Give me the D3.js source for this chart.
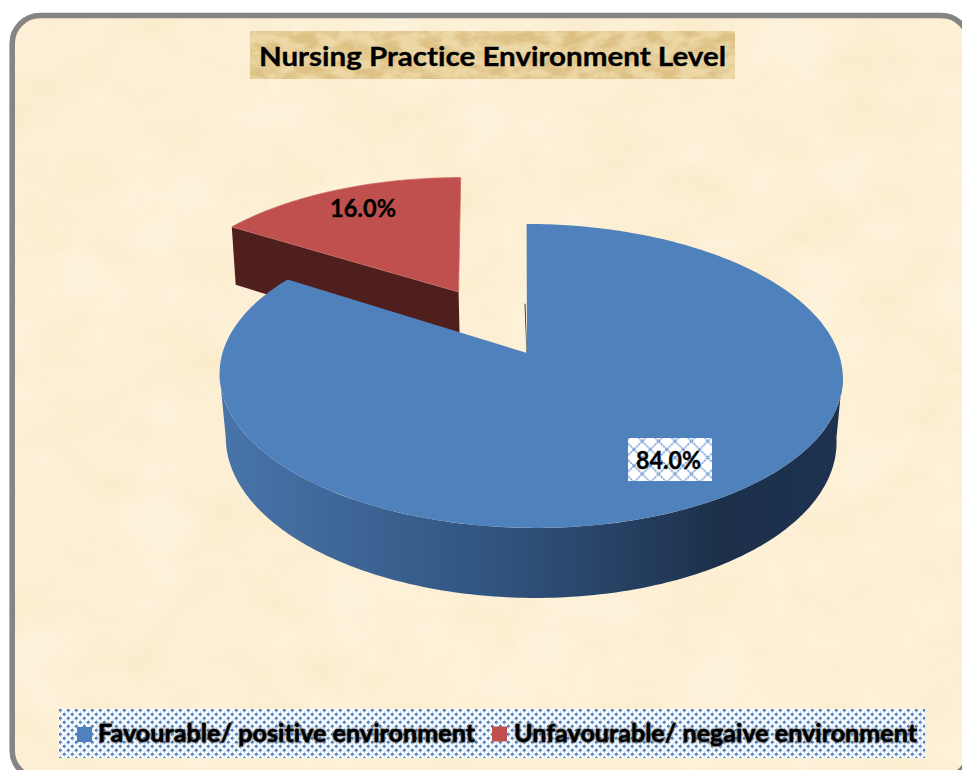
<!DOCTYPE html>
<html><head><meta charset="utf-8">
<script src="https://cdn.jsdelivr.net/npm/d3@7/dist/d3.min.js"></script>
<style>html,body{margin:0;padding:0;background:#fff;overflow:hidden}svg{display:block}text{font-family:Lato,"Open Sans",sans-serif;font-weight:700;fill:#000;stroke:#000;stroke-width:.35px;font-variant-ligatures:none}</style>
</head><body><div id="c"></div>
<script>
const titleText = "Nursing Practice Environment Level";
const categories = ["Favourable/ positive environment", "Unfavourable/ negaive environment"];
const values = [84.0, 16.0];
const valueLabels = ["84.0%", "16.0%"];
const colors = ["#4f81bd", "#c0504d"];
const cutColors = ["#1f3550", "#4f1f1d"];
const explode = [0, 0.5];

const W = 962, H = 770;
const svg = d3.select("#c").append("svg").attr("width", W).attr("height", H);
const defs = svg.append("defs");

function noiseFilter(id, freq, seed, rgb, gain, bias) {
  const f = defs.append("filter").attr("id", id).attr("x", 0).attr("y", 0).attr("width", 1).attr("height", 1)
    .attr("color-interpolation-filters", "sRGB");
  f.append("feTurbulence").attr("type", "fractalNoise").attr("baseFrequency", freq).attr("numOctaves", 4).attr("seed", seed);
  f.append("feColorMatrix").attr("values", `0 0 0 0 ${rgb[0]}  0 0 0 0 ${rgb[1]}  0 0 0 0 ${rgb[2]}  ${gain} 0 0 0 ${bias}`);
}
noiseFilter("parchDark", "0.012 0.02", 7, [0.97, 0.88, 0.70], 3.2, -1.35);
noiseFilter("parchLight", "0.016 0.012", 21, [1, 0.97, 0.90], 3.2, -1.35);
noiseFilter("tan", "0.05 0.09", 3, [0.78, 0.62, 0.33], 3.0, -1.1);

// lattice patterns
const pBig = defs.append("pattern").attr("id","lat").attr("width",16.4).attr("height",16.4).attr("patternUnits","userSpaceOnUse").attr("x",634).attr("y",433);
pBig.append("rect").attr("width",16.4).attr("height",16.4).attr("fill","#fff");
pBig.append("path").attr("d","M0 0L16.4 16.4M16.4 0L0 16.4").attr("stroke","#6f9ad0").attr("stroke-width",1.5).attr("stroke-dasharray","2.2 0.8");
const pSm = defs.append("pattern").attr("id","sm").attr("width",8).attr("height",8).attr("patternUnits","userSpaceOnUse").attr("x",59).attr("y",709);
pSm.append("rect").attr("width",8).attr("height",8).attr("fill","#fff");
[[0,0],[4,4]].forEach(p => pSm.append("rect").attr("x",p[0]).attr("y",p[1]).attr("width",2.6).attr("height",2.6).attr("fill","#4f81bd"));
[[2.6,1],[6.6,5],[1,2.6],[5,6.6],[6.6,1],[2.6,5],[5,2.6],[1,6.6]].forEach(p => pSm.append("rect").attr("x",p[0]).attr("y",p[1]).attr("width",1).attr("height",1).attr("fill","#8fb0d8"));

const grad = defs.append("linearGradient").attr("id","side").attr("gradientUnits","userSpaceOnUse").attr("x1",225).attr("x2",836).attr("y1",0).attr("y2",0);
[[0,"#4874a9"],[0.19,"#3f6698"],[0.45,"#30537e"],[0.61,"#294468"],[0.81,"#1c304a"],[1,"#1d3250"]].forEach(s=>grad.append("stop").attr("offset",s[0]).attr("stop-color",s[1]));

const blur = defs.append("filter").attr("id","soft").attr("x","-5%").attr("y","-20%").attr("width","110%").attr("height","140%");
blur.append("feGaussianBlur").attr("stdDeviation",0.9);

// frame & background
const frame = {x:12.2, y:15.5, width:957, height:763, rx:28};
const clip = defs.append("clipPath").attr("id","fr");
clip.append("rect").attr("x",frame.x).attr("y",frame.y).attr("width",frame.width).attr("height",frame.height).attr("rx",frame.rx);
svg.append("rect").attr("x",frame.x).attr("y",frame.y).attr("width",frame.width).attr("height",frame.height).attr("rx",frame.rx).attr("fill","#fdf0d6");
const bg = svg.append("g").attr("clip-path","url(#fr)");
bg.append("rect").attr("width",W).attr("height",H).attr("filter","url(#parchDark)").attr("opacity",0.22);
bg.append("rect").attr("width",W).attr("height",H).attr("filter","url(#parchLight)").attr("opacity",0.3);
svg.append("rect").attr("x",frame.x).attr("y",frame.y).attr("width",frame.width).attr("height",frame.height).attr("rx",frame.rx).attr("fill","none").attr("stroke","#858585").attr("stroke-width",5.6);

// perspective projection of the pie plane
const K = 0.151, AX = 308, BY = 148.5, SH = -4.5, OX = 527, OY = 353;
const xUnit = d3.scaleLinear().domain([-1,1]).range([-AX, AX]);
const yUnit = d3.scaleLinear().domain([-1,1]).range([BY, -BY]);
function proj(u, v, bottom, dx = 0) {
  const w = 1 + K * v;
  if (!bottom) return [OX + dx + (xUnit(u) + SH * v) / w, OY + yUnit(v) / w];
  return [OX + dx + 0.98 * (xUnit(u) + SH * v) / w, OY + 1.04 * yUnit(v) / w + 63];
}
const pie = d3.pie().sort(null).startAngle(0).endAngle(2 * Math.PI)(values);
const line = d3.line();
function arcPts(a0, a1, ox, oy, bottom, dx = 0) {
  const n = Math.max(2, Math.ceil((a1 - a0) * 60)), pts = [];
  for (let i = 0; i <= n; i++) {
    const t = a0 + (a1 - a0) * i / n;
    pts.push(proj(ox + Math.sin(t), oy + Math.cos(t), bottom, dx));
  }
  return pts;
}
const off = pie.map((d, i) => {
  const m = (d.startAngle + d.endAngle) / 2;
  return [explode[i] * Math.sin(m), explode[i] * Math.cos(m)];
});

// exploded slice (behind)
{
  const d = pie[1], [ox, oy] = off[1];
  const g = svg.append("g");
  const tipU = ox + Math.sin(d.startAngle), tipV = oy + Math.cos(d.startAngle);
  g.append("path").attr("fill", cutColors[1]).attr("d", line([
    proj(tipU, tipV), proj(ox, oy, false, 3), proj(ox, oy, true, 3), proj(tipU, tipV, true, -2)
  ]) + "Z");
  g.append("path").attr("fill", colors[1]).attr("stroke", "#c96a66").attr("stroke-width", 0.7)
    .attr("d", line([proj(ox, oy, false, 3), ...arcPts(d.startAngle, d.endAngle, ox, oy)]) + "Z");
}

// main slice
{
  const d = pie[0];
  const g = svg.append("g");
  const a0 = Math.PI * 0.5 + 0.14, a1 = Math.PI * 1.5 - 0.14;
  const top = arcPts(a0, a1, 0, 0, false, 3.5), bot = arcPts(a0, a1, 0, 0, true, 3.5).reverse();
  g.append("path").attr("fill", "url(#side)").attr("d", line([...top, ...bot]) + "Z");
  const p0 = proj(0, 0), pm = proj(0, 0.35);
  g.append("path").attr("fill", cutColors[0]).attr("d", line([p0, pm, [pm[0] - 1, pm[1]], [p0[0] - 0.5, p0[1]]]) + "Z");
  g.append("path").attr("fill", colors[0])
    .attr("d", line([proj(0, 0), ...arcPts(d.startAngle, d.endAngle, 0, 0, false, 3.5)]) + "Z");
}

// title
svg.append("rect").attr("x",250).attr("y",31).attr("width",485).attr("height",48).attr("fill","#ecd7a5");
svg.append("rect").attr("x",250).attr("y",31).attr("width",485).attr("height",48).attr("filter","url(#tan)").attr("opacity",0.4);
svg.append("text").attr("x",492.5).attr("y",66).attr("text-anchor","middle").attr("font-size",27).attr("textLength",467).attr("lengthAdjust","spacingAndGlyphs").text(titleText);

// data labels
svg.append("rect").attr("x",628).attr("y",438).attr("width",84).attr("height",43).attr("fill","url(#lat)");
svg.append("text").attr("x",668.5).attr("y",469).attr("text-anchor","middle").attr("font-size",25).attr("textLength",65).attr("lengthAdjust","spacingAndGlyphs").text(valueLabels[0]);
svg.append("text").attr("x",363).attr("y",217).attr("text-anchor","middle").attr("font-size",25).attr("textLength",66).attr("lengthAdjust","spacingAndGlyphs").text(valueLabels[1]);

// legend
svg.append("rect").attr("x",59).attr("y",709).attr("width",866).attr("height",49).attr("fill","url(#sm)");
const lx = [77, 492], ly = [727, 726.5], tx = [98, 514], tl = [377, 403];
categories.forEach((c, i) => {
  svg.append("rect").attr("x",lx[i]).attr("y",ly[i]).attr("width",15).attr("height",15).attr("fill",colors[i]);
  svg.append("text").attr("x",tx[i]).attr("y",742).attr("font-size",24).attr("textLength",tl[i]).attr("lengthAdjust","spacingAndGlyphs")
    .attr("filter","url(#soft)").style("fill","#3a3a3a").text(c);
  svg.append("text").attr("x",tx[i]).attr("y",742).attr("font-size",24).attr("textLength",tl[i]).attr("lengthAdjust","spacingAndGlyphs").text(c);
});
</script></body></html>
